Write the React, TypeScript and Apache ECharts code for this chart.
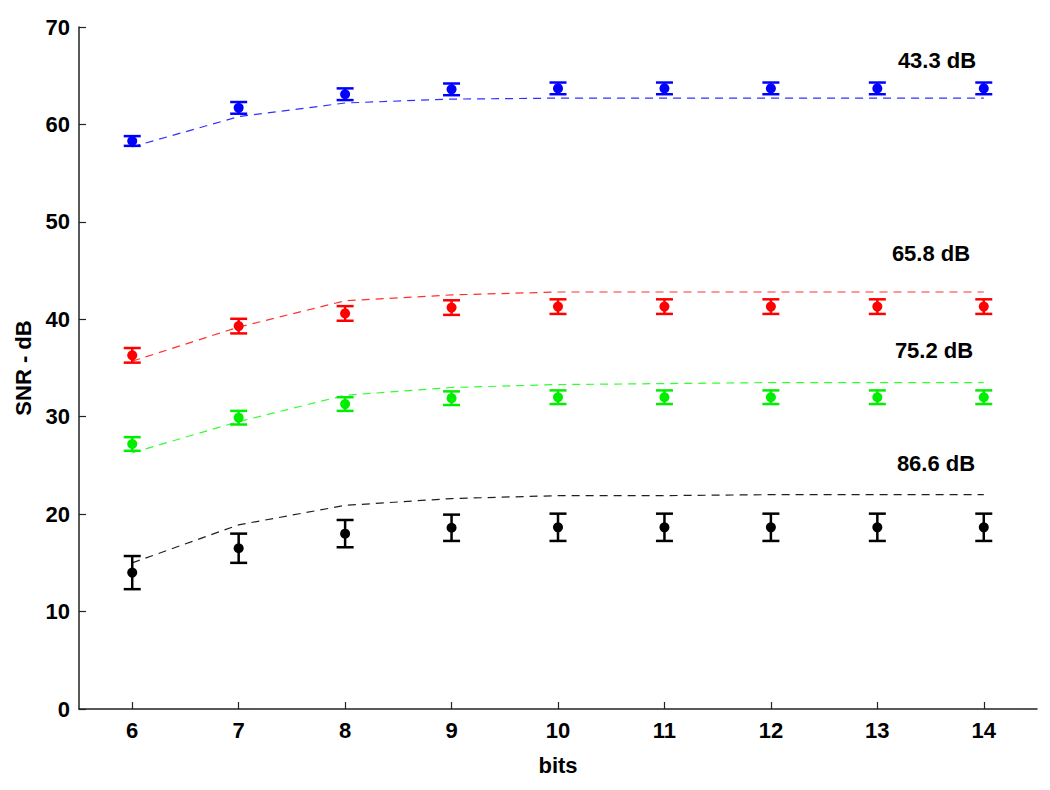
import React, { useEffect, useRef } from "react";
import * as echarts from "echarts";

const bits = [6, 7, 8, 9, 10, 11, 12, 13, 14];
const xTicks = [6, 7, 8, 9, 10, 11, 12, 13, 14];

const blueMeas = [58.3, 61.7, 63.1, 63.6, 63.7, 63.7, 63.7, 63.7, 63.7];
const blueErr = [0.5, 0.6, 0.6, 0.6, 0.6, 0.6, 0.6, 0.6, 0.6];
const blueTheory = [57.7, 60.8, 62.2, 62.6, 62.7, 62.7, 62.7, 62.7, 62.7];

const redMeas = [36.3, 39.3, 40.6, 41.2, 41.3, 41.3, 41.3, 41.3, 41.3];
const redErr = [0.75, 0.75, 0.75, 0.75, 0.75, 0.75, 0.75, 0.75, 0.75];
const redTheory = [35.7, 39.2, 41.9, 42.5, 42.8, 42.8, 42.8, 42.8, 42.8];

const greenMeas = [27.2, 29.9, 31.3, 31.9, 32.0, 32.0, 32.0, 32.0, 32.0];
const greenErr = [0.7, 0.7, 0.7, 0.7, 0.7, 0.7, 0.7, 0.7, 0.7];
const greenTheory = [26.3, 29.5, 32.2, 33.0, 33.3, 33.4, 33.5, 33.5, 33.5];

const blackMeas = [14.0, 16.5, 18.0, 18.6, 18.65, 18.65, 18.65, 18.65, 18.65];
const blackErr = [1.7, 1.5, 1.4, 1.35, 1.4, 1.4, 1.4, 1.4, 1.4];
const blackTheory = [15.0, 18.9, 20.9, 21.6, 21.9, 21.9, 22.0, 22.0, 22.0];

const curveLabels = ["43.3 dB", "65.8 dB", "75.2 dB", "86.6 dB"];

const FONT = "'Liberation Sans', Arial, sans-serif";

function errSeries(color: string, meas: number[], err: number[]) {
  return {
    type: "custom",
    data: bits.map((b, i) => [b, meas[i], err[i]]),
    renderItem: (params: any, api: any) => {
      const x = api.value(0);
      const y = api.value(1);
      const e = api.value(2);
      const top = api.coord([x, y + e]);
      const bot = api.coord([x, y - e]);
      const mid = api.coord([x, y]);
      const hw = 8.5;
      const st = { stroke: color, lineWidth: 2.5 };
      return {
        type: "group",
        children: [
          { type: "line", shape: { x1: top[0], y1: top[1], x2: bot[0], y2: bot[1] }, style: st },
          { type: "line", shape: { x1: top[0] - hw, y1: top[1], x2: top[0] + hw, y2: top[1] }, style: st },
          { type: "line", shape: { x1: bot[0] - hw, y1: bot[1], x2: bot[0] + hw, y2: bot[1] }, style: st },
          { type: "circle", shape: { cx: mid[0], cy: mid[1], r: 5 }, style: { fill: color } },
        ],
      };
    },
    z: 3,
  };
}

function lineSeries(color: string, vals: number[]) {
  return {
    type: "line",
    data: bits.map((b, i) => [b, vals[i]]),
    showSymbol: false,
    lineStyle: { color, width: 1.2, type: [8, 6] },
    z: 2,
  };
}

export default function App() {
  const ref = useRef<HTMLDivElement>(null);
  useEffect(() => {
    const chart = echarts.init(ref.current!, null, { renderer: "svg" });
    const labelStyle = { fontFamily: FONT, fontWeight: "bold", fontSize: 22, fill: "#000" };
    chart.setOption({
      animation: false,
      backgroundColor: "#fff",
      grid: { left: 79, right: 13, top: 27, bottom: 81 },
      xAxis: {
        type: "value",
        min: 5.5,
        max: 14.5,
        name: "bits",
        nameLocation: "middle",
        nameGap: 45,
        nameTextStyle: { fontFamily: FONT, fontWeight: "bold", fontSize: 22, color: "#000" },
        axisLine: { lineStyle: { color: "#222", width: 1.5 } },
        axisTick: { inside: true, length: 7, customValues: xTicks, lineStyle: { color: "#222", width: 1.2 } },
        axisLabel: {
          customValues: xTicks,
          fontFamily: FONT,
          fontWeight: "bold",
          fontSize: 22,
          color: "#000",
          margin: 10,
        },
        splitLine: { show: false },
      },
      yAxis: {
        type: "value",
        min: 0,
        max: 70,
        interval: 10,
        name: "SNR - dB",
        nameLocation: "middle",
        nameGap: 45,
        nameTextStyle: { fontFamily: FONT, fontWeight: "bold", fontSize: 22, color: "#000" },
        axisLine: { show: true, lineStyle: { color: "#222", width: 1.5 } },
        axisTick: { show: true, inside: true, length: 7, lineStyle: { color: "#222", width: 1.2 } },
        axisLabel: { fontFamily: FONT, fontWeight: "bold", fontSize: 22, color: "#000", margin: 9 },
        splitLine: { show: false },
      },
      graphic: [
        { type: "text", x: 937, y: 60, style: { ...labelStyle, text: curveLabels[0], align: "center", verticalAlign: "middle" } },
        { type: "text", x: 931, y: 253, style: { ...labelStyle, text: curveLabels[1], align: "center", verticalAlign: "middle" } },
        { type: "text", x: 934, y: 350, style: { ...labelStyle, text: curveLabels[2], align: "center", verticalAlign: "middle" } },
        { type: "text", x: 936, y: 463, style: { ...labelStyle, text: curveLabels[3], align: "center", verticalAlign: "middle" } },
      ],
      series: [
        lineSeries("#3030ff", blueTheory),
        lineSeries("#ff3030", redTheory),
        lineSeries("#30ff30", greenTheory),
        lineSeries("#202020", blackTheory),
        errSeries("#0000ff", blueMeas, blueErr),
        errSeries("#ff0000", redMeas, redErr),
        errSeries("#00ee00", greenMeas, greenErr),
        errSeries("#000000", blackMeas, blackErr),
      ],
    });
    return () => chart.dispose();
  }, []);
  return <div ref={ref} style={{ width: 1050, height: 790, position: "absolute", left: 0, top: 0 }} />;
}
